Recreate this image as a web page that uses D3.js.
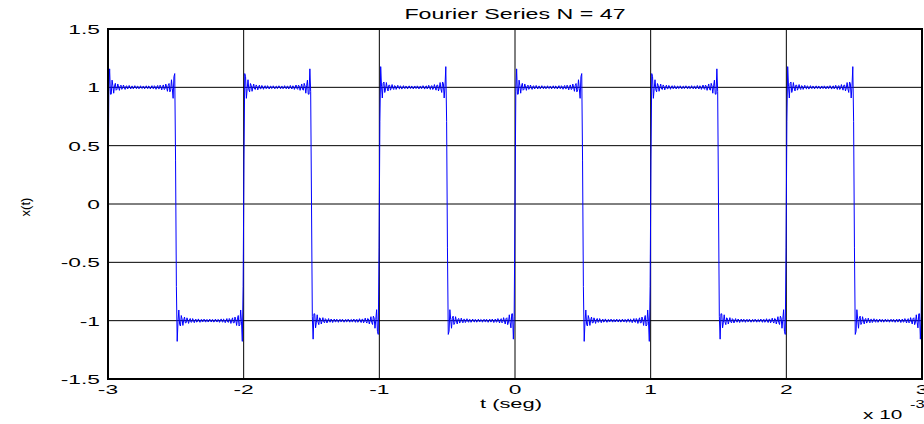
<!DOCTYPE html>
<html>
<head>
<meta charset="utf-8">
<script src="https://cdn.jsdelivr.net/npm/d3@7"></script>
<style>
  body { margin: 0; background: #fff; }
  text { font-family: "Liberation Sans", Arial, sans-serif; fill: #000; }
</style>
</head>
<body>
<div id="chart"></div>
<script>
// odd harmonics of the series and their amplitudes (square wave, period 1 ms)
const harmonics = [1, 3, 5, 7, 9, 11, 13, 15, 17, 19, 21, 23, 25, 27, 29, 31, 33, 35, 37, 39, 41, 43, 45, 47];
const amplitudes = [1.27324, 0.42441, 0.25465, 0.18189, 0.14147, 0.11575, 0.09794, 0.08488, 0.07490, 0.06701,
  0.06063, 0.05536, 0.05093, 0.04716, 0.04390, 0.04107, 0.03858, 0.03638, 0.03441, 0.03265,
  0.03105, 0.02961, 0.02829, 0.02709];
const period = 1e-3;
const tDomain = [-3e-3, 3e-3];
const xTicks = [-3, -2, -1, 0, 1, 2, 3];
const yTicks = [-1.5, -1, -0.5, 0, 0.5, 1, 1.5];
const yTickLabels = ['-1.5', '-1', '-0.5', '0', '0.5', '1', '1.5'];

const width = 924, height = 424;
const margin = { top: 29, right: 2, bottom: 45, left: 108 };

const svg = d3.select('#chart')
  .append('svg')
  .attr('width', width)
  .attr('height', height);

const x = d3.scaleLinear()
  .domain([tDomain[0] * 1e3, tDomain[1] * 1e3])
  .range([margin.left, width - margin.right]);

const y = d3.scaleLinear()
  .domain([-1.5, 1.5])
  .range([height - margin.bottom, margin.top]);

// the reference font is drawn wide
function widen(k) {
  return (sel) => sel
    .attr('textLength', function () { return this.getComputedTextLength() * k; })
    .attr('lengthAdjust', 'spacingAndGlyphs');
}

// grid
svg.append('g')
  .selectAll('line')
  .data(xTicks)
  .enter()
  .append('line')
    .attr('x1', (d) => x(d)).attr('x2', (d) => x(d))
    .attr('y1', y(1.5)).attr('y2', y(-1.5))
    .attr('stroke', '#000').attr('stroke-width', 1);

svg.append('g')
  .selectAll('line')
  .data(yTicks)
  .enter()
  .append('line')
    .attr('x1', x(-3)).attr('x2', x(3))
    .attr('y1', (d) => y(d)).attr('y2', (d) => y(d))
    .attr('stroke', '#000').attr('stroke-width', 1);

// sampled partial sum
const nSamples = 1000;
const samples = d3.range(nSamples + 1).map((i) => {
  const t = tDomain[0] + (tDomain[1] - tDomain[0]) * i / nSamples;
  let v = 0;
  harmonics.forEach((k, j) => { v += amplitudes[j] * Math.sin(2 * Math.PI * k * t / period); });
  return { t: t * 1e3, v };
});

svg.append('path')
  .datum(samples)
  .attr('fill', 'none')
  .attr('stroke', '#0000ff')
  .attr('stroke-width', 1)
  .attr('d', d3.line()
    .x((d) => x(d.t))
    .y((d) => y(d.v)));

// axes box
svg.append('rect')
  .attr('x', x(-3)).attr('y', y(1.5))
  .attr('width', x(3) - x(-3)).attr('height', y(-1.5) - y(1.5))
  .attr('fill', 'none').attr('stroke', '#000').attr('stroke-width', 2);

// tick labels
svg.append('g')
  .selectAll('text')
  .data(yTicks)
  .enter()
  .append('text')
    .attr('x', margin.left - 8)
    .attr('y', (d) => y(d) + 5)
    .attr('text-anchor', 'end')
    .style('font-size', '13px')
    .text((d, i) => yTickLabels[i])
    .call(widen(1.75));

svg.append('g')
  .selectAll('text')
  .data(xTicks)
  .enter()
  .append('text')
    .attr('x', (d) => x(d))
    .attr('y', 394)
    .attr('text-anchor', 'middle')
    .style('font-size', '13px')
    .text((d) => d)
    .call(widen(1.75));

// labels
svg.append('text')
  .attr('x', (x(-3) + x(3)) / 2)
  .attr('y', 19)
  .attr('text-anchor', 'middle')
  .style('font-size', '14.5px')
  .text('Fourier Series N = 47')
  .call(widen(1.6));

svg.append('text')
  .attr('x', 511)
  .attr('y', 408)
  .attr('text-anchor', 'middle')
  .style('font-size', '12.5px')
  .text('t (seg)')
  .call(widen(1.75));

svg.append('text')
  .attr('transform', `translate(30,207) rotate(-90)`)
  .attr('text-anchor', 'middle')
  .style('font-size', '13px')
  .text('x(t)');

svg.append('text')
  .attr('x', 863)
  .attr('y', 419)
  .style('font-size', '13px')
  .text('x 10')
  .call(widen(1.6));

svg.append('text')
  .attr('x', 910)
  .attr('y', 408)
  .style('font-size', '11px')
  .text('-3')
  .call(widen(1.5));
</script>
</body>
</html>
